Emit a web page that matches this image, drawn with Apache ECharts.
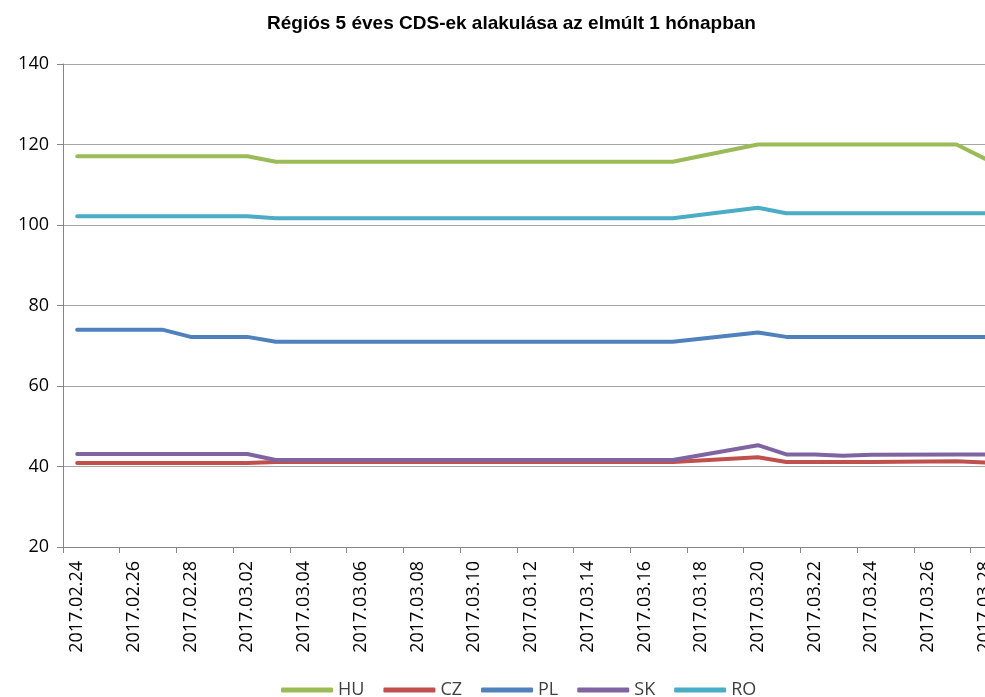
<!DOCTYPE html>
<html>
<head>
<meta charset="utf-8">
<script src="https://cdn.jsdelivr.net/npm/echarts@6/dist/echarts.min.js"></script>
<style>
html,body{margin:0;padding:0;background:#fff;overflow:hidden;width:985px;height:697px;}
#c{width:999px;height:697px;}
</style>
</head>
<body>
<div id="c"></div>
<script>
const titleText = 'Régiós 5 éves CDS-ek alakulása az elmúlt 1 hónapban';
const categories = [
  '2017.02.24','2017.02.25','2017.02.26','2017.02.27','2017.02.28',
  '2017.03.01','2017.03.02','2017.03.03','2017.03.04','2017.03.05',
  '2017.03.06','2017.03.07','2017.03.08','2017.03.09','2017.03.10',
  '2017.03.11','2017.03.12','2017.03.13','2017.03.14','2017.03.15',
  '2017.03.16','2017.03.17','2017.03.18','2017.03.19','2017.03.20',
  '2017.03.21','2017.03.22','2017.03.23','2017.03.24','2017.03.25',
  '2017.03.26','2017.03.27','2017.03.28'
];
// null = weekend (no quote; line connects across)
const HU = [117.1,null,null,117.1,117.1,117.1,117.1,115.7,null,null,
  115.7,115.7,115.7,115.7,115.7,null,null,115.7,115.7,115.7,
  115.7,115.7,null,null,120.0,120.0,120.0,120.0,120.0,null,
  null,120.0,116.5];
const CZ = [40.9,null,null,40.9,40.9,40.9,40.9,41.1,null,null,
  41.1,41.1,41.1,41.1,41.1,null,null,41.1,41.1,41.1,
  41.1,41.1,null,null,42.3,41.1,41.1,41.1,41.1,null,
  null,41.3,41.0];
const PL = [74.0,null,null,74.0,72.2,72.2,72.2,71.0,null,null,
  71.0,71.0,71.0,71.0,71.0,null,null,71.0,71.0,71.0,
  71.0,71.0,null,null,73.3,72.2,72.2,72.2,72.2,null,
  null,72.2,72.2];
const SK = [43.1,null,null,43.1,43.1,43.1,43.1,41.6,null,null,
  41.6,41.6,41.6,41.6,41.6,null,null,41.6,41.6,41.6,
  41.6,41.6,null,null,45.3,43.0,43.0,42.7,42.9,null,
  null,43.0,43.0];
const RO = [102.2,null,null,102.2,102.2,102.2,102.2,101.7,null,null,
  101.7,101.7,101.7,101.7,101.7,null,null,101.7,101.7,101.7,
  101.7,101.7,null,null,104.3,102.9,102.9,102.9,102.9,null,
  null,102.9,102.9];
const seriesNames = ['HU','CZ','PL','SK','RO'];
const seriesData = [HU, CZ, PL, SK, RO];
const colors = ['#9BBB59','#C0504D','#4F81BD','#8064A2','#4BACC6'];
const yMin = 20, yMax = 140, yStep = 20;

const font = 'Open Sans';
const chart = echarts.init(document.getElementById('c'), null, {renderer:'canvas'});
chart.setOption({
  animation: false,
  backgroundColor: '#ffffff',
  color: colors,
  title: {
    text: titleText,
    left: 262,
    top: 9,
    textStyle: {fontFamily: 'Liberation Sans', fontWeight: 'bold', fontSize: 19, color: '#000'}
  },
  legend: {
    data: seriesNames,
    top: 676,
    left: 276,
    icon: 'roundRect',
    itemWidth: 52,
    itemHeight: 5,
    itemGap: 19,
    textStyle: {fontFamily: font, fontSize: 18, color: '#404040'}
  },
  grid: {left: 63, right: 0, top: 64, bottom: 150, containLabel: false},
  xAxis: {
    type: 'category',
    data: categories,
    boundaryGap: true,
    axisLine: {lineStyle: {color: '#868686', width: 1}},
    axisTick: {show: true, interval: 1, alignWithLabel: false, length: 6, lineStyle: {color: '#868686'}},
    axisLabel: {interval: 1, rotate: 90, margin: 14, fontFamily: font, fontSize: 18, color: '#000'},
    splitLine: {show: false}
  },
  yAxis: {
    type: 'value',
    min: yMin, max: yMax, interval: yStep,
    axisLine: {show: true, lineStyle: {color: '#868686', width: 1}},
    axisTick: {show: true, length: 6, lineStyle: {color: '#868686'}},
    axisLabel: {margin: 14, fontFamily: font, fontSize: 18, color: '#000'},
    splitLine: {show: true, lineStyle: {color: '#a6a6a6', width: 1}}
  },
  series: seriesNames.map((n, i) => ({
    name: n,
    type: 'line',
    data: seriesData[i],
    connectNulls: true,
    symbol: 'none',
    showSymbol: false,
    lineStyle: {width: 4, color: colors[i], cap: 'round', join: 'round'},
    itemStyle: {color: colors[i]}
  }))
});
</script>
</body>
</html>
